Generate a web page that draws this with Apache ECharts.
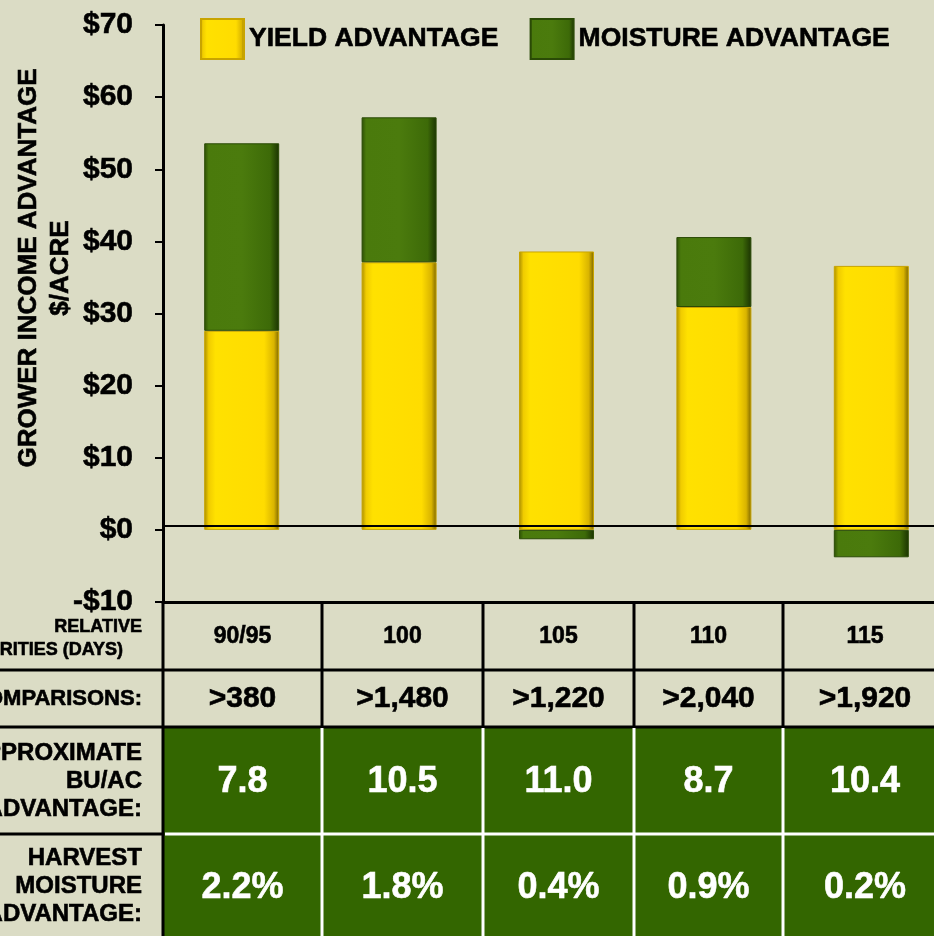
<!DOCTYPE html>
<html>
<head>
<meta charset="utf-8">
<script src="https://cdn.jsdelivr.net/npm/echarts@6/dist/echarts.min.js"></script>
<style>
  html, body { margin: 0; padding: 0; background: #dbdcc5; overflow: hidden; }
  #chart { width: 960px; height: 936px; }
</style>
</head>
<body>
<div id="chart"></div>
<script>
// values
const maturities = ['90/95', '100', '105', '110', '115'];
const yieldAdv = [27.6, 37.1, 38.6, 30.9, 36.6];
const moistureAdv = [26.0, 20.1, -1.3, 9.7, -3.8];
const comparisons = ['>380', '>1,480', '>1,220', '>2,040', '>1,920'];
const buAcAdv = ['7.8', '10.5', '11.0', '8.7', '10.4'];
const harvestMoistAdv = ['2.2%', '1.8%', '0.4%', '0.9%', '0.2%'];
const rowLabels = [
  'RELATIVE\nMATURITIES (DAYS)',
  'COMPARISONS:',
  'APPROXIMATE\nBU/AC\nADVANTAGE:',
  'HARVEST\nMOISTURE\nADVANTAGE:'
];

const FONT = '"Liberation Sans", Arial, sans-serif';
const GREEN = '#336600';

// table layout (pixels); the canvas is a bit wider than the window so the last column is cut like the original
const colEdges = [163, 322, 483, 634, 783, 947];
const rowEdges = [601, 670, 727, 834, 936];

const yellowFill = new echarts.graphic.LinearGradient(0, 0, 1, 0, [
  { offset: 0, color: '#a88c00' },
  { offset: 0.06, color: '#f0cc00' },
  { offset: 0.15, color: '#ffe100' },
  { offset: 0.8, color: '#ffdc00' },
  { offset: 0.93, color: '#d9b400' },
  { offset: 1, color: '#7a6400' }
]);
const greenFill = new echarts.graphic.LinearGradient(0, 0, 1, 0, [
  { offset: 0, color: '#2c4d05' },
  { offset: 0.06, color: '#4a7a0c' },
  { offset: 0.5, color: '#4b7b0d' },
  { offset: 0.88, color: '#3d6a08' },
  { offset: 1, color: '#1b3302' }
]);

function line(x1, y1, x2, y2, color) {
  return {
    type: 'line', z: 20, silent: true,
    shape: { x1: x1, y1: y1, x2: x2, y2: y2 },
    style: { stroke: color, lineWidth: 3 }
  };
}

function label(text, x, y, size, color, align, lh) {
  return {
    type: 'text', z: 30, silent: true, x: x, y: y,
    style: {
      text: text, fill: color, stroke: color, lineWidth: 0.6,
      font: 'bold ' + size + 'px ' + FONT,
      align: align || 'center', verticalAlign: 'middle', lineHeight: lh || size
    }
  };
}

const graphics = [];
// green block for the two lower rows
graphics.push({
  type: 'rect', z: 10, silent: true,
  shape: { x: 164, y: rowEdges[2] + 1, width: 800, height: 936 - rowEdges[2] },
  style: { fill: GREEN }
});
graphics.push(line(0, rowEdges[1], 960, rowEdges[1], '#000'));
graphics.push(line(0, rowEdges[2], 960, rowEdges[2], '#000'));
graphics.push(line(0, rowEdges[3], 163, rowEdges[3], '#000'));
graphics.push(line(165, rowEdges[3], 960, rowEdges[3], '#fff'));
graphics.push(line(163, rowEdges[0], 163, 936, '#000'));
for (let i = 1; i < 5; i++) {
  graphics.push(line(colEdges[i], rowEdges[0], colEdges[i], rowEdges[2], '#000'));
  graphics.push(line(colEdges[i], rowEdges[2] + 1, colEdges[i], 936, '#fff'));
}

// left column labels
const relLines = rowLabels[0].split('\n');
graphics.push(label(relLines[0], 142, 627, 18, '#000', 'right'));
graphics.push(label(relLines[1], 123, 650, 18, '#000', 'right'));
graphics.push(label(rowLabels[1], 142, 699, 22, '#000', 'right', 22));
graphics.push(label(rowLabels[2], 142, 781, 24, '#000', 'right', 28));
graphics.push(label(rowLabels[3], 142, 886, 24, '#000', 'right', 28));

// cell values
for (let i = 0; i < 5; i++) {
  const cx = (colEdges[i] + colEdges[i + 1]) / 2;
  graphics.push(label(maturities[i], cx, 637, 23, '#000'));
  graphics.push(label(comparisons[i], cx, 699, 30, '#000'));
  graphics.push(label(buAcAdv[i], cx, 782, 36, '#fff'));
  graphics.push(label(harvestMoistAdv[i], cx, 888, 36, '#fff'));
}

// y axis title
graphics.push({
  type: 'text', z: 30, silent: true, x: 45, y: 268, rotation: Math.PI / 2,
  style: {
    text: 'GROWER INCOME ADVANTAGE\n$/ACRE', fill: '#000', stroke: '#000', lineWidth: 0.6,
    font: 'bold 26px ' + FONT, align: 'center', verticalAlign: 'middle', lineHeight: 32
  }
});

const chart = echarts.init(document.getElementById('chart'));
chart.setOption({
  backgroundColor: '#dbdcc5',
  animation: false,
  textStyle: { fontFamily: FONT },
  legend: {
    left: 200, top: 18, padding: 0,
    itemWidth: 43, itemHeight: 40, itemGap: 31,
    icon: 'rect',
    textStyle: {
      fontSize: 26.5, fontWeight: 'bold', color: '#000', fontFamily: FONT,
      textBorderColor: '#000', textBorderWidth: 0.6
    },
    data: ['YIELD ADVANTAGE', 'MOISTURE ADVANTAGE']
  },
  grid: { left: 163, top: 25, width: 787, height: 577 },
  xAxis: {
    type: 'category',
    data: maturities,
    axisLine: { onZero: false, lineStyle: { color: '#000', width: 3 } },
    axisTick: { show: false },
    axisLabel: { show: false }
  },
  yAxis: {
    type: 'value',
    min: -10, max: 70, interval: 10,
    axisLine: { show: true, lineStyle: { color: '#000', width: 3 } },
    axisTick: { show: true, length: 8, lineStyle: { color: '#000', width: 2 } },
    splitLine: { show: false },
    axisLabel: {
      margin: 30, color: '#000', fontSize: 30, fontWeight: 'bold', fontFamily: FONT,
      textBorderColor: '#000', textBorderWidth: 0.6,
      formatter: v => (v < 0 ? '-$' + Math.abs(v) : '$' + v)
    }
  },
  series: [
    {
      name: 'YIELD ADVANTAGE', type: 'bar', stack: 'adv', barWidth: 75,
      data: yieldAdv,
      itemStyle: { color: yellowFill, borderColor: '#c8a400', borderWidth: 1 },
      markLine: {
        silent: true, symbol: 'none', label: { show: false },
        lineStyle: { color: '#000', width: 2, type: 'solid' },
        data: [{ yAxis: 0.6 }]
      }
    },
    {
      name: 'MOISTURE ADVANTAGE', type: 'bar', stack: 'adv', barWidth: 75,
      data: moistureAdv,
      itemStyle: { color: greenFill, borderColor: '#2a4a06', borderWidth: 1 }
    }
  ],
  graphic: graphics
});
</script>
</body>
</html>
